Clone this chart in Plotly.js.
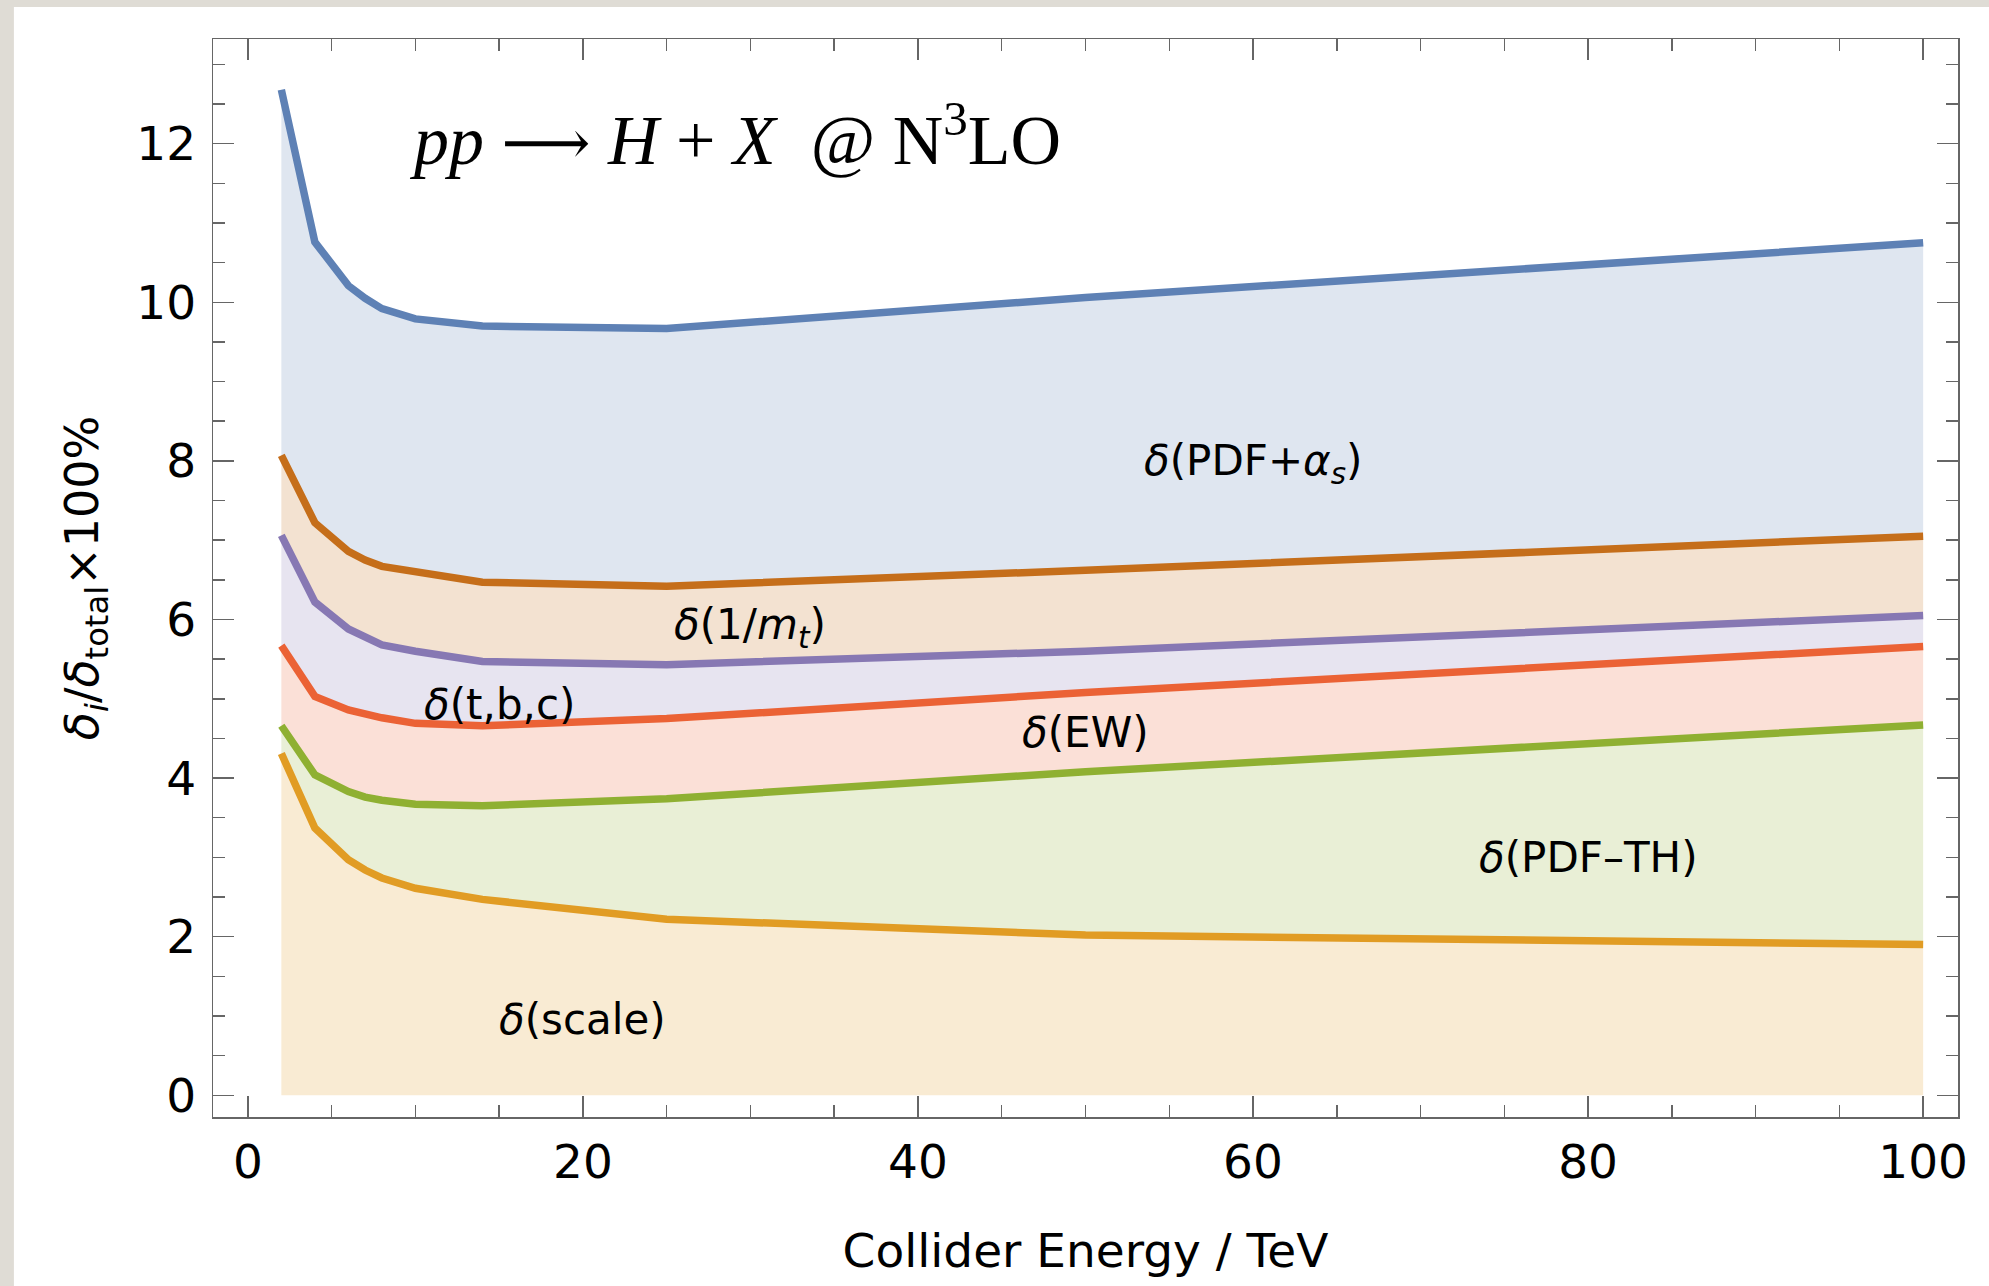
<!DOCTYPE html>
<html>
<head>
<meta charset="utf-8">
<script src="https://cdn.plot.ly/plotly-3.0.1.min.js"></script>
<style>
  html, body { margin: 0; padding: 0; background: #ffffff; }
  #chart { width: 1989px; height: 1286px; }
</style>
</head>
<body>
<div id="chart"></div>
<script>
// Collider energy (TeV)
const energy = [2, 4, 6, 7, 8, 10, 14, 25, 50, 100];

// Cumulative upper edge of each uncertainty band (in % of total)
const deltaScale  = [4.31, 3.37, 2.97, 2.84, 2.74, 2.61, 2.47, 2.22, 2.02, 1.90];
const deltaPdfTh  = [4.66, 4.04, 3.83, 3.76, 3.72, 3.67, 3.65, 3.74, 4.08, 4.67];
const deltaEW     = [5.67, 5.03, 4.86, 4.80, 4.76, 4.69, 4.66, 4.75, 5.08, 5.66];
const deltaTBC    = [7.06, 6.22, 5.88, 5.77, 5.68, 5.60, 5.47, 5.43, 5.60, 6.05];
const deltaMt     = [8.07, 7.22, 6.86, 6.75, 6.67, 6.60, 6.47, 6.42, 6.62, 7.05];
const deltaPdfAs  = [12.68, 10.76, 10.21, 10.05, 9.92, 9.79, 9.70, 9.67, 10.06, 10.75];

const bandNames  = ["δ(scale)", "δ(PDF–TH)", "δ(EW)", "δ(t,b,c)", "δ(1/m_t)", "δ(PDF+α_s)"];
const bandValues = [deltaScale, deltaPdfTh, deltaEW, deltaTBC, deltaMt, deltaPdfAs];
const lineColors = ["#E19C24", "#8FB032", "#EB6235", "#8778B3", "#C56E1A", "#5E81B5"];

// Band labels and their anchor points (data coordinates)
const labelTexts = [
  "<i>δ</i>(scale)",
  "<i>δ</i>(PDF–TH)",
  "<i>δ</i>(EW)",
  "<i>δ</i>(t,b,c)",
  "<i>δ</i>(1/<i>m</i><sub><i>t</i></sub>)",
  "<i>δ</i>(PDF+<i>α</i><sub><i>s</i></sub>)"
];
const labelX = [20, 80, 50, 15, 30, 60];
const labelY = [0.95, 3.0, 4.57, 4.93, 5.9, 7.97];

const xTickVals = [0, 20, 40, 60, 80, 100];
const yTickVals = [0, 2, 4, 6, 8, 10, 12];

function rgba(hex, a) {
  const r = parseInt(hex.slice(1, 3), 16), g = parseInt(hex.slice(3, 5), 16), b = parseInt(hex.slice(5, 7), 16);
  return `rgba(${r},${g},${b},${a})`;
}

const traces = bandValues.map((vals, i) => ({
  type: "scatter",
  mode: "lines",
  name: bandNames[i],
  x: energy,
  y: vals,
  line: { color: lineColors[i], width: 7.5 },
  fill: i === 0 ? "tozeroy" : "tonexty",
  fillcolor: rgba(lineColors[i], 0.2),
  hoverinfo: "x+y+name"
}));

const font = "DejaVu Sans, Verdana, sans-serif";
const axisColor = "#666666";

const annotations = labelTexts.map((t, i) => ({
  x: labelX[i], y: labelY[i], xref: "x", yref: "y",
  text: t, showarrow: false,
  xanchor: "center", yanchor: "middle",
  font: { family: font, size: 42, color: "#000" }
}));

annotations.push({
  x: 9.5, y: 12.11, xref: "x", yref: "y",
  text: "<i>pp</i> <span style=\"font-family:'DejaVu Serif';font-size:62px\">⟶</span> <i>H</i> + <i>X</i>  @ N<sup>3</sup>LO",
  showarrow: false, xanchor: "left", yanchor: "middle",
  font: { family: "Liberation Serif, Times New Roman, serif", size: 70, color: "#000" }
});

const layout = {
  width: 1989, height: 1286,
  paper_bgcolor: "#dfdcd5",
  plot_bgcolor: "#ffffff",
  margin: { l: 213, r: 31, t: 39, b: 169, pad: 0 },
  showlegend: false,
  font: { family: font, size: 47, color: "#000" },
  xaxis: {
    range: [-2.08, 102.08],
    tickvals: xTickVals,
    ticks: "inside", ticklen: 21, tickwidth: 1.5, tickcolor: axisColor,
    minor: { dtick: 5, tick0: 0, ticks: "inside", ticklen: 12, tickwidth: 1.5, tickcolor: axisColor, showgrid: false },
    showline: true, linecolor: axisColor, linewidth: 1.5, mirror: "ticks",
    showgrid: false, zeroline: false,
    tickfont: { family: font, size: 47, color: "#000" },
    ticklabelstandoff: 3,
    title: { text: "Collider Energy / TeV", font: { family: font, size: 47, color: "#000" }, standoff: 46 }
  },
  yaxis: {
    range: [-0.274, 13.32],
    tickvals: yTickVals,
    ticks: "inside", ticklen: 21, tickwidth: 1.5, tickcolor: axisColor,
    minor: { dtick: 0.5, tick0: 0, ticks: "inside", ticklen: 12, tickwidth: 1.5, tickcolor: axisColor, showgrid: false },
    showline: true, linecolor: axisColor, linewidth: 1.5, mirror: "ticks",
    showgrid: false, zeroline: false,
    tickfont: { family: font, size: 47, color: "#000" },
    ticklabelstandoff: 6,
    title: { text: "<i>δ</i><sub><i>i</i></sub>/<i>δ</i><sub>total</sub>×100%", font: { family: font, size: 46, color: "#000" }, standoff: 23 }
  },
  shapes: [{
    type: "rect", xref: "paper", yref: "paper", layer: "below",
    x0: -0.1141, x1: 1.05, y0: -0.2, y1: 1.0297,
    fillcolor: "#ffffff", line: { width: 0 }
  }],
  annotations: annotations
};

Plotly.newPlot("chart", traces, layout, { displayModeBar: false, staticPlot: true });
</script>
</body>
</html>
